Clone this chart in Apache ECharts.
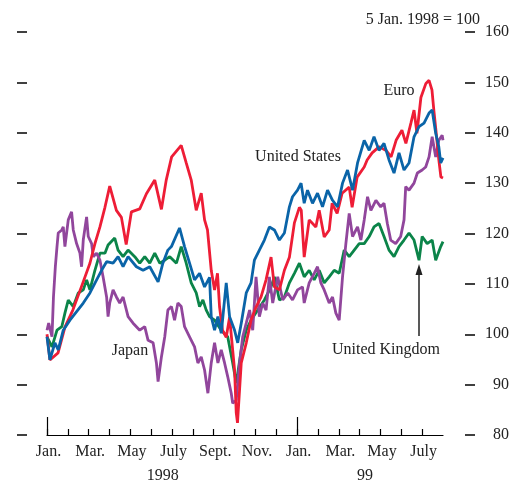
<!DOCTYPE html>
<html>
<head>
<meta charset="utf-8">
<script src="https://cdn.jsdelivr.net/npm/echarts@6/dist/echarts.min.js"></script>
<style>
  html, body { margin: 0; padding: 0; background: #fff; }
  #chart { width: 512px; height: 484px; }
</style>
</head>
<body>
<div id="chart"></div>
<script>
// x = months since 1 Jan 1998, y = index (5 Jan 1998 = 100)
var monthLabels = ['Jan.', 'Mar.', 'May', 'July', 'Sept.', 'Nov.', 'Jan.', 'Mar.', 'May', 'July']
var yearLabels = ['1998', '99']
var yearLabelPos = [5.55, 15.26]
var yearStarts = [0, 12]

var euro = [
  [0, 100], [0.14, 94.9], [0.53, 96.3], [0.86, 101.4], [1.24, 104.8], [1.72, 110.2], [2.06, 114.1],
  [2.3, 118], [2.54, 121.3], [2.78, 125.2], [3.01, 129.4], [3.33, 124.6], [3.57, 123.2], [3.8, 117.8],
  [4.05, 124.3], [4.45, 124.9], [4.77, 127.9], [5.17, 130.6], [5.49, 124.8], [5.72, 130.6], [5.98, 135.2],
  [6.44, 137.5], [6.68, 134], [6.92, 130.6], [7.16, 124.6], [7.4, 128], [7.56, 122.7], [7.7, 120.7],
  [7.88, 112.7], [8.04, 108.8], [8.18, 112.1], [8.28, 105.4], [8.42, 100.8], [8.6, 99.4], [8.76, 103.4],
  [9.0, 92.9], [9.08, 84.4], [9.14, 82.4], [9.32, 94.3], [9.56, 98.3], [9.79, 102.8], [10.03, 105.4],
  [10.27, 107.4], [10.51, 110.8], [10.75, 115.3], [10.91, 109.4], [11.15, 108.8], [11.39, 112.7],
  [11.63, 115.3], [11.87, 122.1], [12.11, 125.2], [12.2, 124.6], [12.34, 115.3], [12.58, 122.7],
  [12.9, 121.3], [13.06, 124.6], [13.3, 119.3], [13.54, 120.7], [13.68, 126], [13.92, 124], [14.16, 128],
  [14.5, 129.2], [14.64, 125.2], [14.88, 131.2], [15.22, 133.2], [15.36, 134.6], [15.6, 136],
  [15.93, 137.2], [16.27, 136.5], [16.51, 135.2], [16.75, 138.5], [17.03, 140.5], [17.22, 137.9],
  [17.46, 141.9], [17.61, 144.5], [17.75, 139.9], [17.94, 147], [18.18, 149.8], [18.33, 150.4],
  [18.47, 148.5], [18.56, 144.5], [18.66, 140.5], [18.8, 134.6], [18.9, 131.2], [19.0, 131]
]

var unitedStates = [
  [0, 99.5], [0.14, 94.9], [0.38, 98.3], [0.54, 96.9], [0.78, 100.8], [1.1, 102.8], [1.42, 104.5],
  [1.74, 106.2], [2.06, 108.2], [2.38, 110.8], [2.62, 112.7], [2.86, 114.4], [3.17, 114.1], [3.41, 115.4],
  [3.65, 113.4], [3.89, 115.4], [4.29, 113.4], [4.61, 112.7], [4.93, 113.4], [5.33, 110.4], [5.56, 114.1],
  [5.8, 116.7], [5.97, 117.4], [6.36, 121.1], [6.6, 117.4], [6.84, 114.1], [7.08, 110.8], [7.32, 112.1],
  [7.56, 109.4], [7.8, 111.3], [7.88, 103.5], [8.04, 100.8], [8.2, 103.5], [8.36, 100.2], [8.6, 110.2],
  [8.76, 103.5], [9.0, 100.8], [9.15, 98.3], [9.32, 102.2], [9.56, 108.2], [9.79, 110.2], [9.95, 114.7],
  [10.19, 116.7], [10.43, 118.7], [10.67, 121.3], [10.91, 120.7], [11.15, 118.7], [11.39, 120.1],
  [11.63, 125.3], [11.78, 127.3], [12.02, 128.6], [12.19, 130], [12.34, 126], [12.5, 128.6], [12.74, 126],
  [12.98, 128], [13.22, 125.3], [13.46, 128.6], [13.7, 126.6], [13.94, 125.3], [14.18, 130], [14.42, 132.6],
  [14.66, 128.6], [14.9, 134], [15.22, 138.5], [15.46, 136.5], [15.69, 139.2], [15.93, 136.5],
  [16.17, 137.9], [16.41, 134.6], [16.65, 132], [16.89, 136], [17.13, 132.6], [17.37, 134], [17.61, 139.2],
  [17.85, 141.2], [18.09, 141.9], [18.33, 143.9], [18.48, 144.5], [18.65, 139.9], [18.8, 137.2],
  [18.89, 134], [19.0, 135]
]

var unitedKingdom = [
  [0, 99.5], [0.24, 97.5], [0.48, 100.8], [0.71, 101.5], [0.86, 104.2], [1.02, 106.8], [1.26, 105.5],
  [1.5, 108.2], [1.74, 108.8], [1.9, 110.8], [2.06, 108.8], [2.3, 112.7], [2.54, 116.1], [2.78, 116.1],
  [2.93, 117.7], [3.25, 119.1], [3.41, 116.7], [3.65, 115.4], [3.89, 116.7], [4.21, 115.4], [4.45, 114.1],
  [4.69, 115.4], [4.93, 114.1], [5.17, 116.1], [5.41, 114.1], [5.65, 114.7], [5.89, 115.4], [6.21, 114.1],
  [6.44, 117.4], [6.68, 114.1], [6.92, 110.2], [7.16, 108.2], [7.32, 105.5], [7.48, 106.8], [7.64, 104.8],
  [7.8, 103.5], [8.04, 102.8], [8.36, 100.8], [8.67, 99.5], [8.91, 94.3], [9.08, 90.3], [9.32, 96.9],
  [9.56, 100.8], [9.79, 102.8], [10.11, 104.8], [10.43, 106.8], [10.75, 109.4], [10.91, 111.4],
  [11.15, 106.8], [11.39, 107.4], [11.63, 110.2], [11.87, 112.1], [12.11, 114.1], [12.34, 111.4],
  [12.58, 112.7], [12.82, 110.8], [13.06, 112.7], [13.3, 110.2], [13.54, 111.4], [13.78, 112.7],
  [14.02, 112.1], [14.26, 116.7], [14.5, 115.4], [14.74, 116.7], [14.98, 118], [15.22, 118], [15.46, 119.4],
  [15.69, 121.3], [15.93, 122], [16.17, 119.4], [16.41, 116.7], [16.65, 115.4], [16.89, 117.4],
  [17.13, 118.7], [17.37, 120.1], [17.61, 118.7], [17.85, 114.7], [18.0, 119.4], [18.24, 118],
  [18.48, 118.7], [18.65, 114.7], [18.89, 117.4], [19.0, 118.4]
]

var japan = [
  [0, 100.8], [0.08, 102.2], [0.24, 99.5], [0.31, 107.4], [0.4, 113.4], [0.48, 117.4], [0.54, 120.1],
  [0.71, 120.7], [0.78, 121.3], [0.86, 117.4], [1.02, 122.7], [1.18, 124.3], [1.26, 120.7], [1.42, 118],
  [1.58, 116.1], [1.66, 113.4], [1.74, 118.7], [1.9, 123.3], [1.98, 119.4], [2.14, 118], [2.22, 115.4],
  [2.38, 116.1], [2.54, 114.7], [2.69, 111.4], [2.86, 107.4], [2.93, 103.5], [3.01, 106.2], [3.17, 108.8],
  [3.33, 107.4], [3.49, 106.2], [3.65, 107.4], [3.89, 103.5], [4.13, 102.2], [4.45, 100.8], [4.69, 101.5],
  [4.85, 98.8], [5.09, 98.3], [5.25, 94.3], [5.33, 90.6], [5.49, 95.5], [5.65, 99.5], [5.8, 104.8],
  [5.97, 105.5], [6.12, 102.8], [6.28, 106.2], [6.44, 105.5], [6.6, 101.5], [6.84, 99.5], [7.08, 97.5],
  [7.24, 94.3], [7.4, 95.5], [7.56, 92.9], [7.72, 88.3], [7.88, 94.3], [8.04, 98.3], [8.2, 94.3],
  [8.36, 96.9], [8.52, 94.3], [8.67, 91.6], [8.84, 88.3], [8.91, 86.3], [9.08, 86.9], [9.24, 94.3],
  [9.39, 99.5], [9.56, 102.2], [9.72, 104.8], [9.87, 100.8], [10.03, 111.4], [10.19, 103.5], [10.35, 106.2],
  [10.51, 104.8], [10.67, 111.4], [10.83, 106.2], [11.07, 111.4], [11.31, 106.8], [11.55, 108.2],
  [11.78, 106.8], [12.02, 108.8], [12.26, 109.4], [12.34, 106.2], [12.58, 110.2], [12.82, 112.1],
  [12.98, 113.4], [13.14, 110.2], [13.3, 108.8], [13.54, 106.2], [13.7, 107.4], [13.86, 104.2],
  [14.02, 102.8], [14.18, 111.4], [14.34, 118], [14.5, 124], [14.66, 119.4], [14.9, 121.3], [15.06, 118.7],
  [15.22, 122.7], [15.38, 127.3], [15.54, 124.6], [15.78, 126.6], [16.01, 125.3], [16.17, 126],
  [16.33, 122], [16.49, 118.7], [16.73, 118], [16.97, 119.4], [17.13, 122.7], [17.21, 129.3],
  [17.37, 128.6], [17.61, 130], [17.77, 132], [18.0, 132.6], [18.17, 133.2], [18.33, 135.2],
  [18.48, 139.2], [18.65, 135.2], [18.8, 138.5], [18.96, 139.5], [19.0, 138.5]
]

var FONT = 'Liberation Serif'
var INK = '#222'

var chart = echarts.init(document.getElementById('chart'))

function line (name, data, color) {
  return {
    name: name,
    type: 'line',
    data: data,
    showSymbol: false,
    animation: false,
    lineStyle: { color: color, width: 2.8 },
    itemStyle: { color: color }
  }
}

// index scale, shared by the plot and the two strips of dashes beside it
function yScale (extra) {
  return Object.assign({
    type: 'value',
    min: 80,
    max: 160,
    interval: 10,
    axisLine: { show: false },
    axisTick: { show: false },
    splitLine: { show: false }
  }, extra)
}

// the dashes left and right of the plot are split lines of two narrow grids
function dashAxis (gridIndex) {
  return yScale({
    gridIndex: gridIndex,
    axisLabel: { show: false },
    splitLine: { show: true, lineStyle: { color: '#000', width: 1.5 } }
  })
}

chart.setOption({
  animation: false,
  grid: [
    { left: 47, right: 68, top: 32, bottom: 49 },
    { left: 17, right: 485, top: 32, bottom: 49 },
    { left: 465, right: 37, top: 32, bottom: 49 }
  ],
  xAxis: [
    {
      type: 'value',
      min: 0,
      max: 19,
      interval: 1,
      axisLine: { lineStyle: { color: '#000', width: 1.2 } },
      axisTick: { inside: true, length: 6, lineStyle: { color: '#000', width: 1.2 } },
      splitLine: { show: false },
      axisLabel: {
        margin: 9,
        padding: [0, 0, 0, 3],
        fontFamily: FONT,
        fontSize: 16,
        color: INK,
        showMinLabel: true,
        showMaxLabel: false,
        formatter: function (v) {
          return v % 2 === 0 ? (monthLabels[v / 2] || '') : ''
        }
      }
    },
    {
      // tall ticks at the start of each year + year labels
      type: 'value',
      position: 'bottom',
      min: 0,
      max: 19,
      axisLine: { show: false },
      axisTick: {
        show: true,
        inside: true,
        length: 18,
        customValues: yearStarts,
        lineStyle: { color: '#000', width: 1.2 }
      },
      splitLine: { show: false },
      axisLabel: {
        customValues: yearLabelPos,
        margin: 33,
        fontFamily: FONT,
        fontSize: 16,
        color: INK,
        formatter: function (v) {
          return yearLabels[yearLabelPos.indexOf(v)]
        }
      }
    },
    { type: 'value', gridIndex: 1, show: false },
    { type: 'value', gridIndex: 2, show: false }
  ],
  yAxis: [
    yScale({
      position: 'right',
      offset: 21,
      axisLabel: { align: 'right', margin: 45, fontFamily: FONT, fontSize: 16, color: INK }
    }),
    dashAxis(1),
    dashAxis(2)
  ],
  graphic: [
    { type: 'text', right: 32, top: 12, style: { text: '5 Jan. 1998 = 100', font: '16px "Liberation Serif"', fill: INK } },
    { type: 'text', x: 399, y: 91, style: { text: 'Euro', font: '16px "Liberation Serif"', fill: INK, align: 'center', verticalAlign: 'middle' } },
    { type: 'text', x: 298, y: 157, style: { text: 'United States', font: '16px "Liberation Serif"', fill: INK, align: 'center', verticalAlign: 'middle' } },
    { type: 'text', x: 130, y: 351, style: { text: 'Japan', font: '16px "Liberation Serif"', fill: INK, align: 'center', verticalAlign: 'middle' } },
    { type: 'text', x: 386, y: 350, style: { text: 'United Kingdom', font: '16px "Liberation Serif"', fill: INK, align: 'center', verticalAlign: 'middle' } },
    // arrow pointing at the UK line
    { type: 'line', shape: { x1: 419, y1: 336, x2: 419, y2: 272 }, style: { stroke: '#222', lineWidth: 1.5 } },
    { type: 'polygon', shape: { points: [[419, 264], [415.5, 275], [422.5, 275]] }, style: { fill: '#222' } }
  ],
  series: [
    line('United Kingdom', unitedKingdom, '#0b8449'),
    line('Japan', japan, '#91469c'),
    line('Euro', euro, '#ee1d36'),
    line('United States', unitedStates, '#0a64a8')
  ]
})
</script>
</body>
</html>
